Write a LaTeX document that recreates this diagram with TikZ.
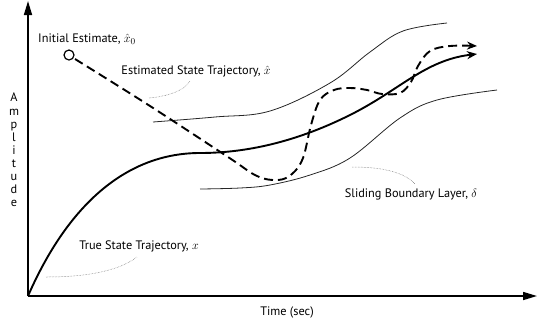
\documentclass[tikz,border=0pt]{standalone}
\usepackage{fontspec}
\setmainfont{PT Sans}
\usetikzlibrary{arrows.meta}
\tikzset{
  axis/.style={line width=1.6pt,-{Triangle[length=14pt,width=8pt]}},
  truetraj/.style={line width=1.9pt,-{Stealth[length=10pt,width=8pt]}},
  esttraj/.style={line width=1.9pt,dash pattern=on 9pt off 5pt,-{Stealth[length=10pt,width=8pt]}},
  boundary/.style={line width=0.8pt,black!85},
  leader/.style={densely dotted,line width=0.5pt,black!60},
  lbl/.style={inner sep=0pt,font=\fontsize{12.3}{14}\selectfont}
}
\begin{document}
\begin{tikzpicture}[x=1pt,y=-1pt]
\useasboundingbox (0,0) rectangle (537,325);
% axes
\coordinate (O) at (28,296);
\coordinate (ytop) at (28,1);
\coordinate (xend) at (537,296);
\draw[axis] (O) -- (ytop);
\draw[axis] (O) -- (xend);
\node[lbl] (time) at (287,312) {Time (sec)};
\node[lbl,align=center,font=\fontsize{12.3}{13.1}\selectfont] (amp) at (14,150) {A\\m\\p\\l\\i\\t\\u\\d\\e};
% boundary layer
\draw[boundary] plot[smooth,tension=0.6] coordinates {(153,122) (215,117) (270,111) (330,83) (370,52) (403,31) (447,23)};
\draw[boundary] plot[smooth,tension=0.6] coordinates {(200,189) (240,188) (270,185) (310,175) (350,158) (400,118) (437,100) (497,90)};
% true trajectory
\draw[truetraj] (O) .. controls (70,200) and (130,153) .. (200,153)
   .. controls (250,153) and (300,140) .. (350,115)
   .. controls (400,90) and (425,60) .. (477,54);
% estimate
\node[draw,circle,line width=1.2pt,minimum size=10pt,inner sep=0pt] (x0) at (69,55) {};
\draw[esttraj] plot[smooth,tension=0.6] coordinates {(75,59) (150,106) (228,157) (257,176) (278,180) (292,174) (303,158) (311,125) (320,100) (334,90) (350,88) (367,90) (382,94) (400,93) (411,82) (418,66) (430,51) (450,46) (477,46)};
% labels
\node[lbl] (initl) at (87,39) {Initial Estimate, $\hat{x}_0$};
\node[lbl] (estl) at (196,71) {Estimated State Trajectory, $\hat{x}$};
\node[lbl] (truel) at (139,246) {True State Trajectory, $x$};
\node[lbl] (slidl) at (411,194) {Sliding Boundary Layer, $\delta$};
% leaders
\coordinate (e1) at (149,98); \coordinate (e2) at (190,81);
\draw[leader] (e1) .. controls (170,96) and (185,90) .. (e2);
\coordinate (t1) at (46,277); \coordinate (t2) at (137,257);
\draw[leader] (t1) .. controls (90,277) and (120,270) .. (t2);
\coordinate (s1) at (352,167); \coordinate (s2) at (415,184);
\draw[leader] (s1) .. controls (385,167) and (405,173) .. (s2);
\end{tikzpicture}
\end{document}
